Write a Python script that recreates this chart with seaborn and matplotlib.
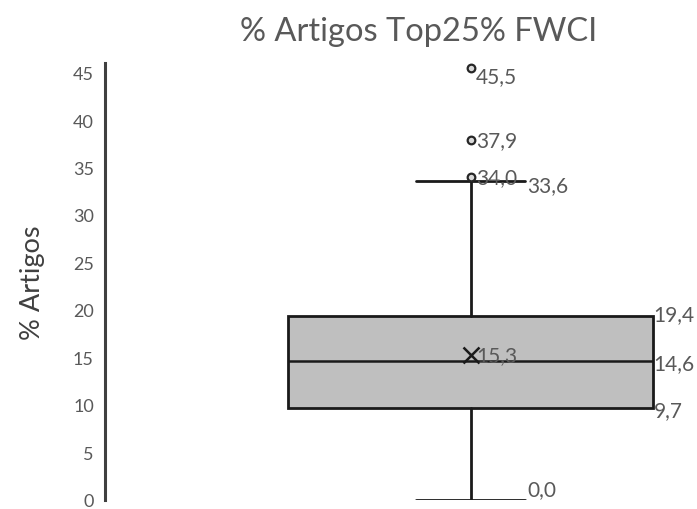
import matplotlib
matplotlib.use("Agg")
import matplotlib.pyplot as plt
import seaborn as sns

# Summary statistics of the distribution
category = "% Artigos"
q1 = 9.7
median = 14.6
q3 = 19.4
whisker_low = 0.0
whisker_high = 33.6
mean_value = 15.3
outliers = [34.0, 37.9, 45.5]
y_ticks = [0, 5, 10, 15, 20, 25, 30, 35, 40, 45]

sns.set_theme(style="white")
plt.rcParams["font.family"] = ["Lato", "DejaVu Sans"]

GREY_TEXT = "#595959"

fig = plt.figure(figsize=(6.97, 5.10), dpi=100)
ax = fig.add_axes([105 / 697, 1 - 501 / 510, 585 / 697, (501 - 64) / 510])

stats = [{
    "label": category,
    "med": median,
    "q1": q1,
    "q3": q3,
    "whislo": whisker_low,
    "whishi": whisker_high,
    "mean": mean_value,
    "fliers": outliers,
}]

ax.bxp(
    stats,
    positions=[0],
    widths=1.0,
    patch_artist=True,
    showmeans=True,
    boxprops=dict(facecolor="#BFBFBF", edgecolor="#1a1a1a", linewidth=2),
    medianprops=dict(color="#1a1a1a", linewidth=1.8),
    whiskerprops=dict(color="#1a1a1a", linewidth=2),
    capprops=dict(color="#1a1a1a", linewidth=2),
    capwidths=0.30,
    flierprops=dict(marker="o", markersize=5.5, markerfacecolor="#d9d9d9",
                    markeredgecolor="#262626", markeredgewidth=1.6),
    meanprops=dict(marker="x", markersize=11, markeredgecolor="#1a1a1a",
                   markeredgewidth=1.8),
)

ax.set_xlim(-1.0, 0.6)
ax.set_ylim(0, 46)
ax.set_yticks(y_ticks)
ax.set_yticklabels([str(t) for t in y_ticks], color=GREY_TEXT, fontsize=13)
ax.set_xticks([])
ax.tick_params(axis="y", length=0, pad=8)

for side in ["top", "right", "bottom"]:
    ax.spines[side].set_visible(False)
ax.spines["left"].set_color("#404040")
ax.spines["left"].set_linewidth(2.2)

ax.set_ylabel(category, fontsize=19.5, color="#404040", labelpad=20)
fig.text(419 / 697, 1 - 32 / 510, "% Artigos Top25% FWCI",
         fontsize=23.5, color=GREY_TEXT, ha="center", va="center")


def fmt(v):
    return f"{v:.1f}".replace(".", ",")


lab = dict(color=GREY_TEXT, fontsize=15, va="center", ha="left")

# outlier and mean labels, right of their marker
for v in outliers:
    dy = -0.9 if v == max(outliers) else 0.0
    ax.text(0.015, v + dy, fmt(v), **lab)
ax.text(0.015, mean_value, fmt(mean_value), **lab)

# whisker end labels, right of the caps
ax.text(0.155, whisker_high - 0.4, fmt(whisker_high), **lab)
ax.text(0.155, whisker_low + 1.2, fmt(whisker_low), **lab)

# quartile labels, right of the box
ax.text(0.5, q3 + 0.2, fmt(q3), **lab)
ax.text(0.5, median - 0.2, fmt(median), **lab)
ax.text(0.5, q1 - 0.2, fmt(q1), **lab)

fig.savefig("out.png", dpi=100)
